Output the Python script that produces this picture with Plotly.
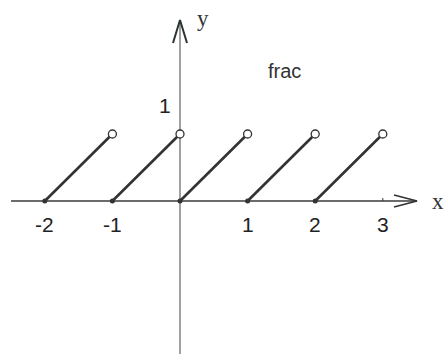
import plotly.graph_objects as go

# data
seg_starts = [-2, -1, 0, 1, 2]          # frac(x) = x - n on [n, n+1)
seg_ends = [-1, 0, 1, 2, 3]
x_tick_vals = [-2, -1, 1, 2, 3]
x_tick_text = ["-2", "-1", "1", "2", "3"]
y_tick_vals = [1]
y_tick_text = ["1"]
title_text = "frac"

W, H = 445, 354
x0_px, y0_px, ux, uy = 180, 201, 67.6, 67.0
x_range = [(0 - x0_px) / ux, (W - x0_px) / ux]
y_range = [-(H - y0_px) / uy, y0_px / uy]

fig = go.Figure()
dark = "#333333"

# segments
for a, b in zip(seg_starts, seg_ends):
    fig.add_trace(go.Scatter(x=[a, b], y=[0, 1], mode="lines",
                             line=dict(color=dark, width=2.6), hoverinfo="skip"))
# filled dots
fig.add_trace(go.Scatter(x=seg_starts, y=[0] * len(seg_starts), mode="markers",
                         marker=dict(color=dark, size=5), hoverinfo="skip"))
# open circles
fig.add_trace(go.Scatter(x=seg_ends, y=[1] * len(seg_ends), mode="markers",
                         marker=dict(color="white", size=8, line=dict(color=dark, width=1.3)),
                         hoverinfo="skip"))

# axes lines (in data coords derived from pixel extents)
x_axis_left = (11 - x0_px) / ux
x_axis_right = (417 - x0_px) / ux
y_axis_top = (y0_px - 20) / uy
fig.add_shape(type="line", x0=x_axis_left, x1=x_axis_right, y0=0, y1=0,
              line=dict(color="#3a3a3a", width=1.3), layer="below")
fig.add_shape(type="line", x0=0, x1=0, y0=y_range[0], y1=y_axis_top,
              line=dict(color="#808080", width=1.5), layer="below")

# arrowheads (open V)
ax_len, ax_w = 23 / ux, 6 / uy
fig.add_trace(go.Scatter(x=[x_axis_right - ax_len, x_axis_right, x_axis_right - ax_len],
                         y=[ax_w, 0, -ax_w], mode="lines",
                         line=dict(color="#333333", width=1.6), hoverinfo="skip"))
ay_len, ay_w = 23 / uy, 7 / ux
fig.add_trace(go.Scatter(x=[-ay_w, 0, ay_w],
                         y=[y_axis_top - ay_len, y_axis_top, y_axis_top - ay_len], mode="lines",
                         line=dict(color="#2a3530", width=2), hoverinfo="skip"))

# tick mark at 3
fig.add_shape(type="line", x0=3, x1=3, y0=0, y1=3 / uy, line=dict(color="#333333", width=1))

# tick labels
for v, t in zip(x_tick_vals, x_tick_text):
    fig.add_annotation(x=v, y=-23 / uy, text=t, showarrow=False,
                       font=dict(family="Liberation Sans, Arial", size=21, color="#222222"),
                       xanchor="center", yanchor="middle")
for v, t in zip(y_tick_vals, y_tick_text):
    fig.add_annotation(x=-15 / ux, y=v + 29 / uy, text=t, showarrow=False,
                       font=dict(family="Liberation Sans, Arial", size=21, color="#222222"),
                       xanchor="center", yanchor="middle")

fig.add_annotation(x=(438 - x0_px) / ux, y=0, text="x", showarrow=False,
                   font=dict(family="Liberation Serif, Times New Roman", size=23, color="#333333"),
                   xanchor="center", yanchor="middle")
fig.add_annotation(x=(203 - x0_px) / ux, y=(y0_px - 18) / uy, text="y", showarrow=False,
                   font=dict(family="Liberation Serif, Times New Roman", size=23, color="#333333"),
                   xanchor="center", yanchor="middle")
fig.add_annotation(x=(284 - x0_px) / ux, y=(y0_px - 71) / uy, text=title_text, showarrow=False,
                   font=dict(family="Liberation Sans, Arial", size=20, color="#333333"),
                   xanchor="center", yanchor="middle")

fig.update_layout(width=W, height=H, margin=dict(l=0, r=0, t=0, b=0),
                  paper_bgcolor="white", plot_bgcolor="white", showlegend=False,
                  xaxis=dict(range=x_range, visible=False, fixedrange=True),
                  yaxis=dict(range=y_range, visible=False, fixedrange=True))
fig.write_html("out.html", config={"displayModeBar": False},
               post_script="document.body.style.margin='0';document.body.style.overflow='hidden';")
